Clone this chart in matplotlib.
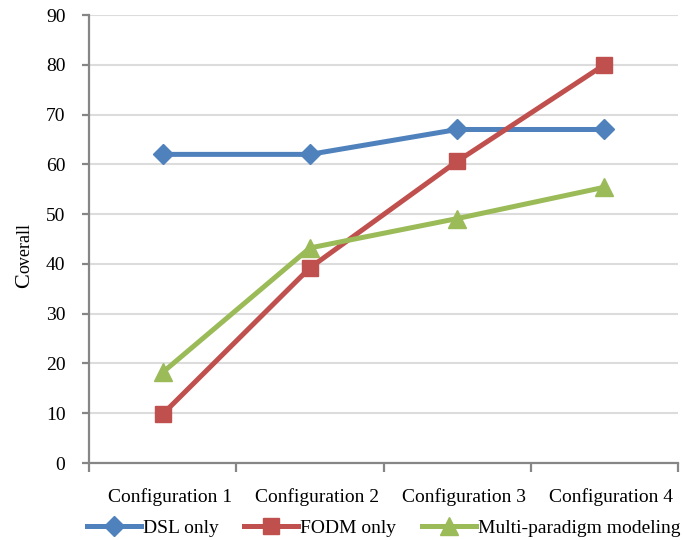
import numpy as np
import matplotlib
matplotlib.use('Agg')
import matplotlib.pyplot as plt
import matplotlib.transforms as mtransforms

plt.rcParams['font.family'] = ['Liberation Serif', 'DejaVu Serif']

categories = ['Configuration 1', 'Configuration 2', 'Configuration 3', 'Configuration 4']
dsl_only = [62, 62, 67, 67]
fodm_only = [9.8, 39.2, 60.6, 80]
multi_paradigm = [18.2, 43.2, 49.1, 55.4]
y_ticks = [0, 10, 20, 30, 40, 50, 60, 70, 80, 90]

fig = plt.figure(figsize=(6.84, 5.4), dpi=100)
ax = fig.add_axes([89 / 684, 1 - 463 / 540, 589 / 684, 448 / 540])

x = np.arange(len(categories))
ax.plot(x, dsl_only, color='#4F81BD', lw=3.6, marker='D', ms=10,
        label='DSL only')
ax.plot(x, fodm_only, color='#C0504D', lw=3.6, marker='s', ms=12,
        label='FODM only')
ax.plot(x, multi_paradigm, color='#9BBB59', lw=3.6, marker='^', ms=12.5,
        label='Multi-paradigm modeling')

ax.set_xlim(-0.5, 3.5)
ax.set_ylim(0, 90)
ax.set_yticks(y_ticks)
ax.set_xticks(np.arange(-0.5, 4, 1))
ax.set_xticklabels([])
ax.set_xticks(x, minor=True)
ax.set_xticklabels(categories, minor=True)
ax.tick_params(axis='x', which='minor', length=0, pad=18, labelsize=14)
ax.tick_params(axis='x', which='major', length=6.5, width=1.6, color='#868686', direction='out')
ax.tick_params(axis='y', length=5, width=1.6, color='#868686', direction='out',
               pad=12, labelsize=14)

# category labels sit a little right of the category centre, like in the original
shift = mtransforms.ScaledTranslation(7 / 100, 0, fig.dpi_scale_trans)
for lbl in ax.get_xticklabels(minor=True):
    lbl.set_transform(lbl.get_transform() + shift)

ax.grid(axis='y', color='#dcdcdc', lw=1.5)
ax.set_axisbelow(True)
for s in ['top', 'right']:
    ax.spines[s].set_visible(False)
for s in ['left', 'bottom']:
    ax.spines[s].set_color('#868686')
    ax.spines[s].set_linewidth(1.6)

# y label: big C with smaller "overall" on the same baseline
t1 = fig.text(29 / 684, 1 - 288 / 540, 'C', fontsize=16, rotation=90,
              rotation_mode='anchor', ha='left', va='baseline')
fig.canvas.draw()
bb = t1.get_window_extent(fig.canvas.get_renderer())
fig.text(29 / 684, bb.y1 / 540 + 0.001, 'overall', fontsize=13, rotation=90,
         rotation_mode='anchor', ha='left', va='baseline')

ax.legend(loc='center', bbox_to_anchor=(0.5, -0.145), ncol=3, frameon=False,
          fontsize=14, handlelength=2.8, handletextpad=0.1, columnspacing=1.3,
          borderaxespad=0, borderpad=0)

fig.savefig('out.png', dpi=100)
